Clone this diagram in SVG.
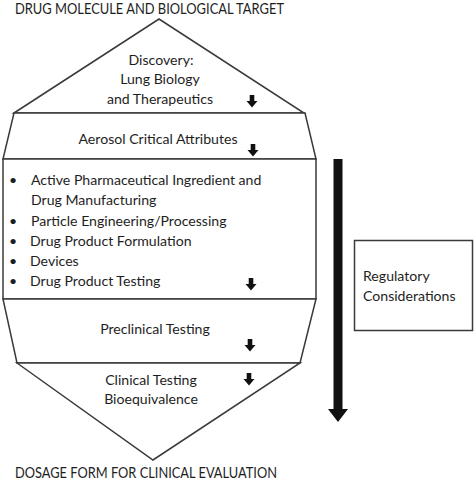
<svg xmlns="http://www.w3.org/2000/svg" xmlns:xlink="http://www.w3.org/1999/xlink" width="474" height="480" viewBox="0 0 474 480">
  <style>
    .shape { fill: #ffffff; stroke: #3a3a3a; stroke-width: 1.5; stroke-linejoin: miter; }
    .t { font-family: Lato, "Open Sans", "Liberation Sans", sans-serif; font-size: 14.1px; fill: #1e1e1e; }
    .h { font-size: 14.5px; }
    .c { text-anchor: middle; }
    .arrow { fill: #111111; }
  </style>
  <defs>
    <path id="sa" d="M-2.3,0 H2.3 V6 H5.5 L0,12.5 L-5.5,6 H-2.3 Z"/>
  </defs>
  <rect width="474" height="480" fill="#ffffff"/>

  <text class="t h" x="15" y="13.5" textLength="269" lengthAdjust="spacingAndGlyphs">DRUG MOLECULE AND BIOLOGICAL TARGET</text>
  <text class="t h" x="15" y="478" textLength="262" lengthAdjust="spacingAndGlyphs">DOSAGE FORM FOR CLINICAL EVALUATION</text>

  <g id="discovery">
    <polygon class="shape" points="14,113 159,19 304,113"/>
    <text class="t c" x="161" y="65">Discovery:</text>
    <text class="t c" x="160" y="84">Lung Biology</text>
    <text class="t c" x="160" y="104">and Therapeutics</text>
  </g>

  <g id="aerosol">
    <polygon class="shape" points="14,113 305,113 316,159 3,159"/>
    <text class="t c" x="158" y="144">Aerosol Critical Attributes</text>
  </g>

  <g id="manufacturing">
    <rect class="shape" x="3" y="159" width="313" height="140"/>
    <g class="t">
      <text x="9" y="185">•</text>
      <text x="31" y="185">Active Pharmaceutical Ingredient and</text>
      <text x="31" y="205">Drug Manufacturing</text>
      <text x="9" y="226">•</text>
      <text x="31" y="226">Particle Engineering/Processing</text>
      <text x="9" y="246">•</text>
      <text x="30" y="246">Drug Product Formulation</text>
      <text x="9" y="266">•</text>
      <text x="30" y="266">Devices</text>
      <text x="9" y="286">•</text>
      <text x="30" y="286">Drug Product Testing</text>
    </g>
  </g>

  <g id="preclinical">
    <polygon class="shape" points="3,299 316,299 300,363 17,363"/>
    <text class="t c" x="155" y="334">Preclinical Testing</text>
  </g>

  <g id="clinical">
    <polygon class="shape" points="17,363 153,460 300,363"/>
    <text class="t c" x="151" y="385">Clinical Testing</text>
    <text class="t c" x="151" y="404">Bioequivalence</text>
  </g>

  <g id="regulatory">
    <rect class="shape" x="354.5" y="240.5" width="118" height="90"/>
    <text class="t" x="363" y="281">Regulatory</text>
    <text class="t" x="363" y="301">Considerations</text>
  </g>

  <g id="connectors">
    <use xlink:href="#sa" class="arrow" x="252" y="95"/>
    <use xlink:href="#sa" class="arrow" x="253" y="144"/>
    <use xlink:href="#sa" class="arrow" x="251" y="278"/>
    <use xlink:href="#sa" class="arrow" x="250" y="339"/>
    <use xlink:href="#sa" class="arrow" x="249" y="373"/>
    <path class="arrow" d="M333.5,159 H342.5 V409 H348 L338,422 L328,409 H333.5 Z"/>
  </g>
</svg>
